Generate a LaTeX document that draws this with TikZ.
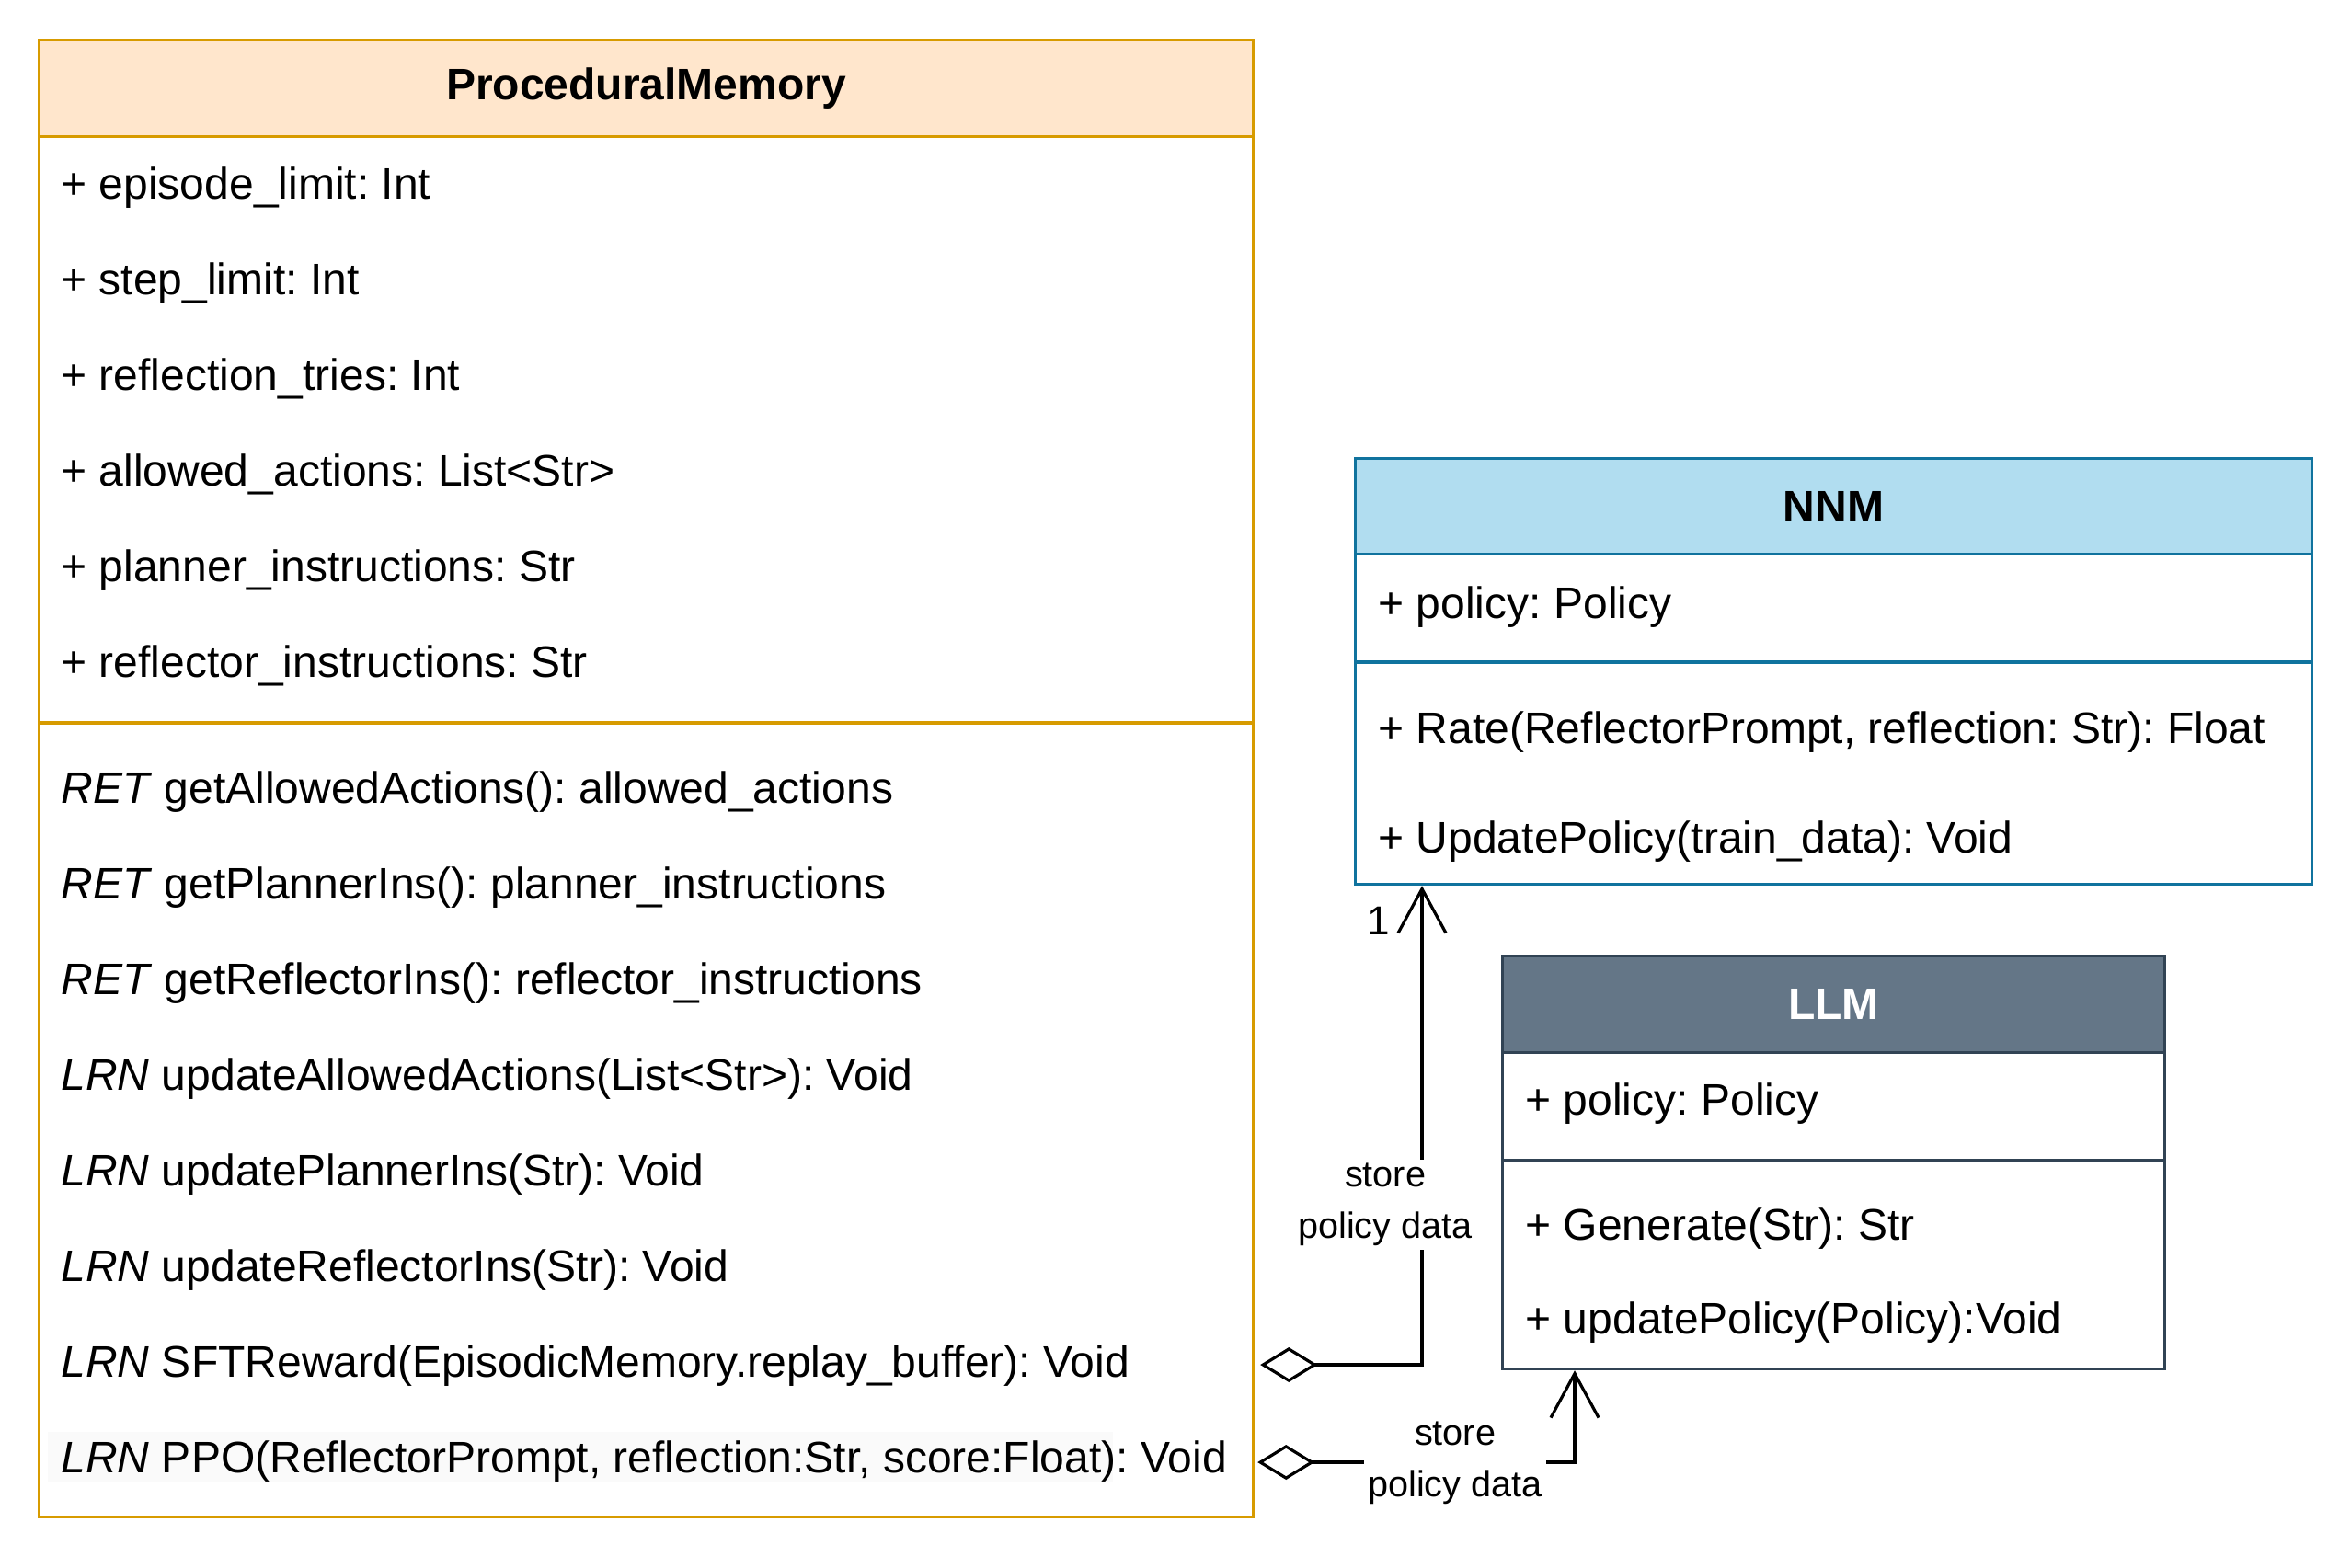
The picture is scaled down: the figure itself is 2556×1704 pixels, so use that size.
\documentclass[tikz,border=0pt]{standalone}
\usepackage{fontspec}
\setmainfont{Liberation Sans}
\usetikzlibrary{arrows.meta}
\definecolor{pmfill}{HTML}{FFE6CC}
\definecolor{pmline}{HTML}{D79B00}
\definecolor{nnmfill}{HTML}{B1DDF0}
\definecolor{nnmline}{HTML}{10739E}
\definecolor{llmfill}{HTML}{647687}
\definecolor{llmline}{HTML}{314354}
\definecolor{rowgray}{HTML}{FAFAFA}
\frenchspacing
\begin{document}
\begin{tikzpicture}[x=0.25pt,y=-0.25pt,line width=0.8pt,
  row/.style={anchor=base west,inner sep=0pt,font=\fontsize{12}{14}\selectfont},
  ttl/.style={inner sep=0pt,font=\fontsize{12}{14}\selectfont\bfseries},
  box/.style={anchor=north west,inner sep=0pt,fill=white},
  lbl/.style={font=\fontsize{9.9}{14}\selectfont,align=center,fill=white,inner sep=1pt},
  conn/.style={draw=black,line width=0.8pt}]
\useasboundingbox (0,0) rectangle (2556,1704);

% ProceduralMemory
\node[box,draw=pmline,minimum width=330pt,minimum height=401.5pt] (pm) at (41,42) {};
\node[box,draw=pmline,fill=pmfill,minimum width=330pt,minimum height=26.25pt] (pmh) at (41,42) {};
\node[ttl] (pmt) at (pmh.center) {ProceduralMemory};
\draw[pmline] (41,786) -- (1361,786);
\fill[rowgray] (52,1557) rectangle (1210,1612);
\node[row] (a1) at (65,216) {+ episode\_limit: Int};
\node[row] (a2) at (65,320) {+ step\_limit: Int};
\node[row] (a3) at (65,424) {+ reflection\_tries: Int};
\node[row] (a4) at (65,528) {+ allowed\_actions: List<Str>};
\node[row] (a5) at (65,632) {+ planner\_instructions: Str};
\node[row] (a6) at (65,736) {+ reflector\_instructions: Str};
\node[row] (m1) at (65,873) {\textit{RET} getAllowedActions(): allowed\_actions};
\node[row] (m2) at (65,977) {\textit{RET} getPlannerIns(): planner\_instructions};
\node[row] (m3) at (65,1081) {\textit{RET} getReflectorIns(): reflector\_instructions};
\node[row] (m4) at (65,1185) {\textit{LRN} updateAllowedActions(List<Str>): Void};
\node[row] (m5) at (65,1289) {\textit{LRN} updatePlannerIns(Str): Void};
\node[row] (m6) at (65,1393) {\textit{LRN} updateReflectorIns(Str): Void};
\node[row] (m7) at (65,1497) {\textit{LRN} SFTReward(EpisodicMemory.replay\_buffer): Void};
\node[row] (m8) at (65,1601) {\textit{LRN} PPO(ReflectorPrompt, reflection:Str, score:Float): Void};

% NNM
\node[box,draw=nnmline,minimum width=260pt,minimum height=115.75pt] (nnm) at (1472,497) {};
\node[box,draw=nnmline,fill=nnmfill,minimum width=260pt,minimum height=26pt] (nnmh) at (1472,497) {};
\node[ttl] (nnmt) at (nnmh.center) {NNM};
\draw[nnmline] (1472,720) -- (2512,720);
\node[row] (n1) at (1497,672) {+ policy: Policy};
\node[row] (n2) at (1497,808) {+ Rate(ReflectorPrompt, reflection: Str): Float};
\node[row] (n3) at (1497,927) {+ UpdatePolicy(train\_data): Void};

% LLM
\node[box,draw=llmline,minimum width=180pt,minimum height=112.25pt] (llm) at (1632,1038) {};
\node[box,draw=llmline,fill=llmfill,minimum width=180pt,minimum height=26.25pt] (llmh) at (1632,1038) {};
\node[ttl,text=white] (llmt) at (llmh.center) {LLM};
\draw[llmline] (1632,1262) -- (2352,1262);
\node[row] (l1) at (1657,1212) {+ policy: Policy};
\node[row] (l2) at (1657,1348) {+ Generate(Str): Str};
\node[row] (l3) at (1657,1450) {+ updatePolicy(Policy):Void};

% connectors
\draw[conn,{Diamond[open,length=15.5pt,width=9.5pt]}-{Straight Barb[length=12pt,width=13pt]}]
  ([xshift=1.5pt]pm.east |- 0,1484) -| ([xshift=18.5pt]nnm.south west);
\node[lbl] (c1) at (1506,1310) {store\\policy data};
\node[inner sep=0pt,font=\fontsize{11}{12}\selectfont] (one) at (1499,1001) {1};

\draw[conn,{Diamond[open,length=15.5pt,width=9.5pt]}-{Straight Barb[length=12pt,width=13pt]}]
  ([xshift=0.75pt]pm.east |- 0,1590) -| ([xshift=20pt]llm.south west);
\node[lbl] (c2) at (1582,1591) {store\\policy data};
\end{tikzpicture}
\end{document}
